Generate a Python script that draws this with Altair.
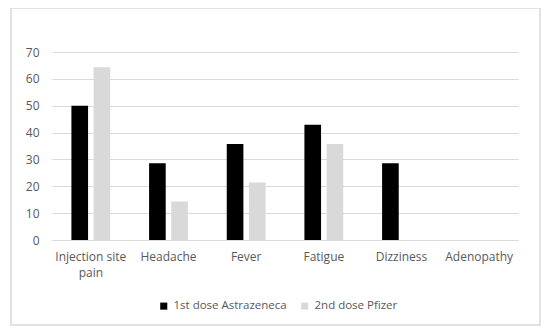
import altair as alt
import pandas as pd

categories = ["Injection site pain", "Headache", "Fever", "Fatigue", "Dizziness", "Adenopathy"]
series = ["1st dose Astrazeneca", "2nd dose Pfizer"]
astrazeneca = [50.0, 28.6, 35.7, 42.9, 28.6, 0.0]
pfizer = [64.3, 14.3, 21.4, 35.7, 0.0, 0.0]
y_ticks = [0, 10, 20, 30, 40, 50, 60, 70]
colors = ["#000000", "#d9d9d9"]

rows = []
for c, a, p in zip(categories, astrazeneca, pfizer):
    rows.append({"symptom": c, "dose": series[0], "value": a})
    rows.append({"symptom": c, "dose": series[1], "value": p})
df = pd.DataFrame(rows)

FONT = "Open Sans"
LABEL_COLOR = "#595959"
GRID = "#d9d9d9"

bars = alt.Chart(df).mark_bar().encode(
    x=alt.X("symptom:N", sort=categories, title=None,
            scale=alt.Scale(paddingInner=0.5, paddingOuter=0.25),
            axis=alt.Axis(labelAngle=0, ticks=False, domain=True, domainColor=GRID,
                          labelPadding=11, labelFontSize=12, labelFont=FONT,
                          labelColor=LABEL_COLOR, labelLineHeight=16,
                          labelExpr="datum.value == 'Injection site pain' ? ['Injection site', 'pain'] : datum.value")),
    xOffset=alt.XOffset("dose:N", sort=series, scale=alt.Scale(paddingInner=0.25)),
    y=alt.Y("value:Q", title=None,
            scale=alt.Scale(domain=[0, 70], nice=False),
            axis=alt.Axis(values=y_ticks, ticks=False, domain=False, grid=True,
                          gridColor=GRID, labelPadding=13, labelFontSize=12,
                          labelFont=FONT, labelColor=LABEL_COLOR)),
    color=alt.Color("dose:N", sort=series,
                    scale=alt.Scale(domain=series, range=colors),
                    legend=alt.Legend(title=None, orient="none", direction="horizontal",
                                      legendX=106, legendY=248, symbolType="square",
                                      symbolSize=50, symbolStrokeWidth=0,
                                      labelFont=FONT, labelFontSize=11.5,
                                      labelColor=LABEL_COLOR, columnPadding=12,
                                      labelOffset=4)),
)

frame = alt.Chart(pd.DataFrame({"k": [0]})).mark_rect(
    fill=None, stroke=GRID, strokeWidth=1.5
).encode(
    x=alt.value(-41), x2=alt.value(488), y=alt.value(-44), y2=alt.value(273)
)

chart = alt.layer(frame, bars).properties(
    width=466, height=188,
    autosize=alt.AutoSizeParams(type="none"),
    padding={"left": 44, "top": 44, "right": 24, "bottom": 86},
).configure_view(stroke=None)

chart.save("out.html", embed_options={"renderer": "svg", "actions": False})
